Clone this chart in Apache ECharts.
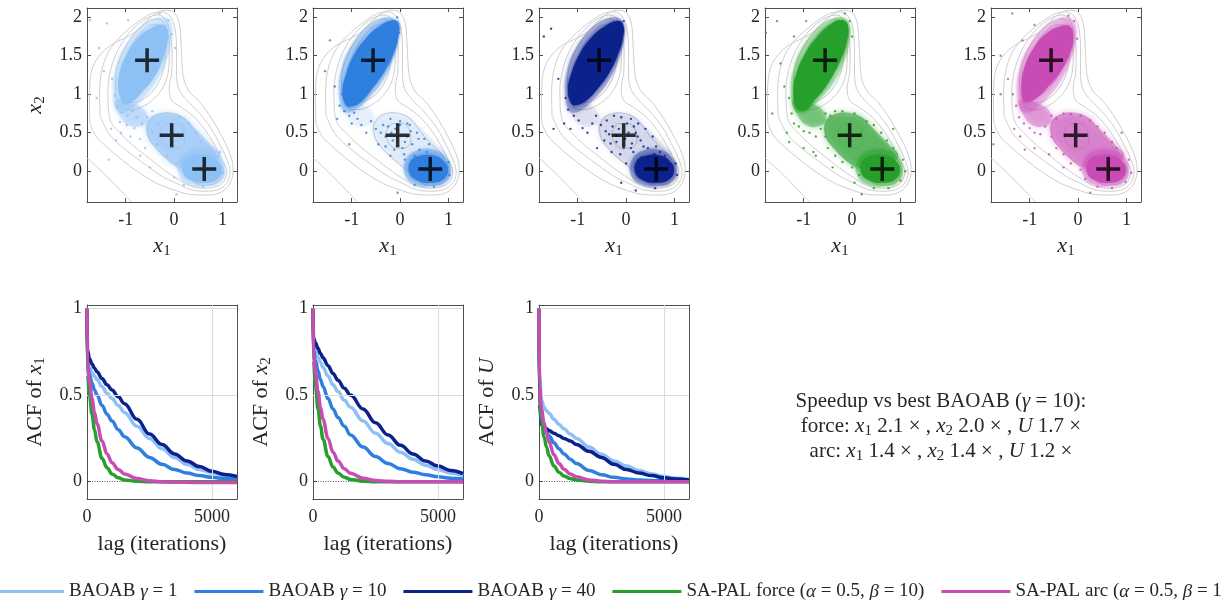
<!DOCTYPE html>
<html><head><meta charset="utf-8">
<script src="https://cdn.jsdelivr.net/npm/echarts@6/dist/echarts.min.js"></script>
<style>html,body{margin:0;padding:0;background:#fff}#c{width:1222px;height:600px}</style>
</head><body><div id="c"></div>
<script>
// ---------- DATA ----------
const seriesNames = ['BAOAB γ = 1', 'BAOAB γ = 10', 'BAOAB γ = 40', 'SA-PAL force (α = 0.5, β = 10)', 'SA-PAL arc (α = 0.5, β = 10)'];
const colors = ['#8DC0F5', '#2F7FDF', '#0B218C', '#26A02B', '#C84BB6'];

// top scatter panels: x1 / x2 ticks
const xTicksTop = [-1, 0, 1];
const yTicksTop = [0, 0.5, 1, 1.5, 2];
// minima markers (crosses)
const minima = [[-0.558, 1.442], [-0.050, 0.467], [0.623, 0.028]];

// contour polylines
const contourOpen = [[-1.8,0.17],[-1.6,0.06],[-1.4,-0.06],[-1.2,-0.19],[-1.0,-0.32],[-0.88,-0.4]];
const contour1 = [[-1.74,0.62],[-1.75,0.9],[-1.74,1.15],[-1.68,1.35],[-1.52,1.52],[-1.3,1.64],[-1.05,1.72],[-0.84,1.79],[-0.62,1.92],[-0.4,2.04],[-0.2,2.09],[-0.02,2.07],[0.1,1.94],[0.14,1.7],[0.16,1.44],[0.2,1.2],[0.32,1.03],[0.53,0.9],[0.78,0.68],[0.98,0.46],[1.14,0.25],[1.22,0.04],[1.17,-0.14],[0.98,-0.27],[0.68,-0.31],[0.32,-0.3],[-0.02,-0.24],[-0.35,-0.16],[-0.65,-0.05],[-0.92,0.07],[-1.18,0.2],[-1.42,0.33],[-1.62,0.46],[-1.74,0.62]];
const contour2 = [[-1.53,0.72],[-1.54,1.0],[-1.5,1.29],[-1.38,1.52],[-1.18,1.7],[-0.93,1.85],[-0.68,1.97],[-0.45,2.05],[-0.25,2.07],[-0.08,2.01],[0.02,1.84],[0.05,1.58],[0.05,1.3],[0.09,1.08],[0.25,0.93],[0.5,0.77],[0.76,0.56],[0.95,0.34],[1.1,0.14],[1.16,-0.02],[1.08,-0.16],[0.9,-0.24],[0.64,-0.26],[0.34,-0.24],[0.06,-0.16],[-0.24,-0.07],[-0.54,0.06],[-0.84,0.2],[-1.12,0.34],[-1.36,0.5],[-1.53,0.72]];
const contour3 = [[-1.36,0.8],[-1.37,1.05],[-1.32,1.29],[-1.2,1.52],[-1.0,1.74],[-0.76,1.9],[-0.52,2.0],[-0.32,2.03],[-0.17,1.96],[-0.08,1.78],[-0.04,1.52],[-0.05,1.28],[-0.1,1.08],[-0.05,0.92],[0.15,0.83],[0.42,0.7],[0.68,0.5],[0.87,0.3],[1.0,0.14],[1.09,0.0],[1.03,-0.13],[0.86,-0.2],[0.6,-0.22],[0.3,-0.18],[0.02,-0.08],[-0.28,0.05],[-0.58,0.2],[-0.88,0.35],[-1.12,0.5],[-1.3,0.63],[-1.36,0.8]];
const ringA1 = [[-1.1,0.86],[-1.2,1.0],[-1.21,1.2],[-1.12,1.45],[-0.95,1.67],[-0.74,1.84],[-0.52,1.95],[-0.34,1.98],[-0.2,1.92],[-0.12,1.75],[-0.1,1.52],[-0.12,1.29],[-0.22,1.1],[-0.4,0.95],[-0.62,0.85],[-0.85,0.8],[-1.0,0.8],[-1.1,0.86]];
const ringA2 = [[-1.02,0.92],[-1.1,1.05],[-1.1,1.25],[-1.0,1.47],[-0.85,1.66],[-0.65,1.82],[-0.45,1.9],[-0.3,1.9],[-0.2,1.8],[-0.17,1.6],[-0.2,1.38],[-0.3,1.18],[-0.47,1.02],[-0.66,0.93],[-0.85,0.89],[-1.02,0.92]];
const ringA3 = [[-0.95,1.0],[-1.0,1.15],[-0.95,1.35],[-0.82,1.56],[-0.63,1.73],[-0.44,1.83],[-0.3,1.82],[-0.24,1.68],[-0.27,1.48],[-0.38,1.28],[-0.55,1.12],[-0.74,1.01],[-0.95,1.0]];
const ringBC = [[-0.55,0.6],[-0.4,0.72],[-0.15,0.76],[0.12,0.72],[0.32,0.6],[0.5,0.45],[0.68,0.33],[0.85,0.23],[0.98,0.1],[1.02,0.0],[0.96,-0.1],[0.8,-0.17],[0.56,-0.18],[0.34,-0.1],[0.12,0.02],[-0.12,0.15],[-0.35,0.28],[-0.52,0.44],[-0.55,0.6]];
const ringB = [[0.3,0.12],[0.45,0.2],[0.65,0.2],[0.85,0.13],[0.95,0.03],[0.9,-0.08],[0.72,-0.13],[0.5,-0.12],[0.33,-0.05],[0.3,0.12]];
const ringC = [[-0.3,0.5],[-0.15,0.62],[0.05,0.62],[0.2,0.52],[0.22,0.38],[0.08,0.3],[-0.1,0.3],[-0.25,0.38],[-0.3,0.5]];

// dense sample clouds (outlines) and sparse samples per panel
const coreA1 = [[-1.08,0.9],[-1.15,1.08],[-1.12,1.29],[-0.98,1.51],[-0.74,1.73],[-0.46,1.86],[-0.22,1.9],[-0.13,1.81],[-0.15,1.64],[-0.26,1.42],[-0.43,1.21],[-0.67,1.03],[-0.88,0.9],[-1.05,0.88]];
const coreA2 = [[-1.12,0.86],[-1.19,1.03],[-1.12,1.25],[-0.95,1.51],[-0.7,1.73],[-0.43,1.88],[-0.15,1.96],[-0.03,1.92],[-0.04,1.73],[-0.15,1.51],[-0.33,1.29],[-0.57,1.08],[-0.81,0.9],[-1.02,0.84]];
const coreA3 = [[-1.13,0.88],[-1.2,1.05],[-1.13,1.27],[-0.96,1.52],[-0.71,1.74],[-0.44,1.88],[-0.17,1.95],[-0.06,1.9],[-0.07,1.72],[-0.18,1.5],[-0.35,1.28],[-0.58,1.08],[-0.82,0.92],[-1.03,0.86]];
const coreA4 = [[-1.15,0.82],[-1.21,1.03],[-1.15,1.27],[-0.98,1.51],[-0.74,1.73],[-0.46,1.9],[-0.22,1.96],[-0.09,1.9],[-0.11,1.68],[-0.22,1.47],[-0.4,1.25],[-0.6,1.05],[-0.81,0.9],[-0.98,0.79]];
const coreA5 = [[-1.13,0.92],[-1.17,1.12],[-1.1,1.36],[-0.89,1.62],[-0.65,1.79],[-0.37,1.88],[-0.17,1.88],[-0.1,1.75],[-0.17,1.53],[-0.37,1.29],[-0.62,1.1],[-0.86,0.95],[-1.03,0.9]];
const haloA = [[-1.2,0.8],[-1.27,1.05],[-1.22,1.32],[-1.06,1.58],[-0.8,1.8],[-0.5,1.95],[-0.2,2.0],[-0.05,1.9],[-0.06,1.66],[-0.18,1.4],[-0.38,1.15],[-0.64,0.95],[-0.9,0.8],[-1.1,0.76]];
const coreB = [[0.22,0.13],[0.43,0.2],[0.7,0.2],[0.9,0.13],[0.99,0.02],[0.9,-0.1],[0.65,-0.15],[0.37,-0.12],[0.2,-0.03]];
const haloB = [[0.12,0.15],[0.35,0.27],[0.7,0.28],[0.95,0.18],[1.06,0.02],[0.96,-0.14],[0.65,-0.2],[0.3,-0.17],[0.1,-0.05]];
const regionC = [[-0.55,0.65],[-0.35,0.74],[-0.05,0.75],[0.2,0.7],[0.4,0.58],[0.6,0.45],[0.8,0.32],[0.95,0.2],[0.7,0.05],[0.35,0.0],[0.1,0.05],[-0.15,0.15],[-0.38,0.3],[-0.55,0.45]];
const regionNeck = [[-1.22,0.92],[-1.12,0.72],[-0.95,0.6],[-0.72,0.58],[-0.55,0.66],[-0.62,0.8],[-0.85,0.88]];
const regionCOpacity = [0.5, 0.08, 0.09, 0.5, 0.45];
const regionNeckOpacity = [0.35, 0.06, 0.07, 0.4, 0.35];

const sparse1 = [[-1.74,1.96],[-1.39,1.92],[-0.95,1.96],[-1.55,1.6],[-1.45,1.3],[-1.28,1.2],[-1.22,0.98],[-1.18,0.84],[-1.08,0.76],[-0.96,0.72],[-0.86,0.78],[-0.78,0.7],[-1.12,0.64],[-0.98,0.6],[-0.82,0.56],[-0.66,0.62],[-0.55,0.7],[-0.45,0.78],[-1.3,0.55],[-1.1,0.5],[-0.9,0.45],[-0.7,0.42],[-1.2,0.4],[-0.6,0.3],[-0.45,0.5],[-0.32,0.62],[0.1,0.7],[0.3,0.62],[0.45,0.5],[0.55,0.38],[-0.35,0.35],[-0.15,0.2],[0.05,0.1],[0.2,0.0],[0.0,-0.08],[0.95,0.25],[1.02,-0.02],[0.6,-0.2],[0.2,-0.18],[-0.5,0.05],[-1.35,0.15],[0.05,-0.3],[-0.05,1.78],[-0.12,1.96],[-0.3,2.05],[0.02,1.6],[-1.6,0.95],[-0.7,0.2]];
const sparse2 = [[-1.2,1.0],[-1.25,0.85],[-1.15,0.78],[-1.05,0.72],[-0.95,0.76],[-0.88,0.68],[-1.3,0.68],[-1.0,0.62],[-0.8,0.6],[-0.6,0.65],[-1.55,1.3],[-1.45,1.7],[-0.7,0.5],[-0.5,0.55],[-0.35,0.6],[-0.2,0.68],[0.0,0.65],[0.2,0.6],[0.35,0.5],[0.5,0.42],[0.6,0.35],[-0.3,0.45],[-0.15,0.4],[0.05,0.3],[0.25,0.35],[0.4,0.28],[-0.1,0.55],[0.15,0.45],[-0.2,0.2],[0.1,0.15],[1.0,0.12],[1.02,-0.05],[0.7,-0.2],[0.3,-0.18],[-1.05,0.35],[-0.05,-0.28],[-1.35,1.1],[-0.02,1.8],[-0.06,2.0],[-0.45,0.35],[-0.25,0.58],[-0.05,0.45],[0.1,0.38],[0.3,0.2],[0.45,0.15],[-0.4,0.5],[0.0,0.6],[0.22,0.52],[0.38,0.42],[-0.12,0.28],[0.08,0.22],[-0.3,0.32],[0.55,0.25],[0.15,0.62],[-0.18,0.5]];
const sparse3 = [[-1.7,1.75],[-1.55,1.85],[-1.4,1.2],[-1.25,0.95],[-1.2,0.8],[-1.08,0.72],[-1.28,0.62],[-1.15,0.55],[-0.98,0.66],[-0.9,0.56],[-0.8,0.5],[-0.7,0.62],[-0.62,0.72],[-0.52,0.6],[-0.4,0.66],[-0.25,0.72],[-0.1,0.7],[0.1,0.68],[0.25,0.62],[0.4,0.55],[0.55,0.45],[0.62,0.32],[-0.35,0.48],[-0.2,0.38],[-0.05,0.3],[0.15,0.25],[0.3,0.4],[0.45,0.3],[-0.15,0.55],[0.05,0.5],[0.2,0.5],[-0.45,0.4],[-0.3,0.25],[0.0,0.1],[0.2,0.05],[1.02,0.1],[1.05,-0.05],[0.6,-0.22],[0.2,-0.25],[-0.1,-0.15],[-0.6,0.3],[-0.1,1.85],[-0.05,1.95],[-1.5,0.55],[-0.28,0.58],[-0.02,0.42],[0.12,0.36],[0.32,0.18],[0.48,0.18],[-0.42,0.52],[0.02,0.62],[0.24,0.45],[0.36,0.32],[-0.12,0.22],[0.1,0.3],[-0.32,0.36],[0.58,0.22],[0.16,0.58],[-0.2,0.46],[0.7,0.25],[0.8,0.2]];
const sparse4 = [[-1.78,1.8],[-1.55,1.95],[-1.48,1.4],[-1.4,1.1],[-1.3,0.95],[-1.25,0.75],[-1.2,0.62],[-1.1,0.58],[-1.0,0.52],[-0.88,0.5],[-0.75,0.45],[-0.65,0.55],[-1.35,0.5],[-1.3,0.38],[-0.55,0.75],[-0.45,0.72],[-0.35,0.78],[-0.2,0.78],[0.05,0.75],[0.3,0.65],[0.45,0.6],[0.6,0.5],[0.72,0.4],[0.85,0.3],[-0.55,0.45],[-0.5,0.3],[-0.35,0.2],[-0.2,0.12],[0.0,0.05],[0.15,-0.05],[0.05,-0.15],[-0.4,0.05],[1.05,0.15],[1.1,0.0],[1.0,-0.12],[0.75,-0.22],[0.45,-0.22],[0.2,-0.3],[-0.8,0.25],[-1.0,0.3],[-0.05,1.95],[0.0,1.75],[-0.15,2.05],[-0.95,1.95],[-1.2,1.75],[-0.75,0.2],[0.85,0.55],[-1.65,0.75]];
const sparse5 = [[-1.36,2.05],[-1.6,1.5],[-1.45,1.2],[-1.35,1.0],[-1.28,0.85],[-1.22,0.7],[-1.12,0.62],[-1.0,0.56],[-0.9,0.5],[-0.78,0.48],[-0.68,0.58],[-1.32,0.55],[-1.2,0.45],[-0.55,0.72],[-0.45,0.68],[-0.3,0.75],[-0.15,0.74],[0.05,0.72],[0.25,0.66],[0.4,0.58],[0.55,0.5],[0.7,0.38],[0.8,0.3],[-0.55,0.45],[-0.45,0.3],[-0.3,0.22],[-0.15,0.1],[0.05,0.02],[0.15,-0.1],[-0.3,0.05],[1.05,0.15],[1.1,-0.02],[0.98,-0.14],[0.7,-0.22],[0.4,-0.2],[0.25,-0.28],[-0.9,0.3],[-1.1,0.28],[-1.75,0.35],[-0.08,1.95],[-0.02,1.72],[-0.2,2.02],[-0.9,1.9],[-1.15,1.7],[-0.6,0.22],[0.9,0.5],[-1.6,1.0]];

// ACF panels
const lags = [0, 20, 100, 200, 300, 400, 600, 800, 1000, 1250, 1500, 2000, 2500, 3000, 3500, 4000, 4500, 5000, 5500, 6000];
const xTicksAcf = [0, 5000];
const yTicksAcf = [0, 0.5, 1];
const acfX1_g1  = [1,0.72,0.66,0.63,0.61,0.59,0.55,0.51,0.48,0.44,0.40,0.32,0.25,0.19,0.14,0.10,0.07,0.05,0.035,0.025];
const acfX1_g10 = [1,0.68,0.62,0.57,0.53,0.50,0.44,0.39,0.35,0.30,0.26,0.195,0.14,0.10,0.07,0.05,0.035,0.025,0.018,0.013];
const acfX1_g40 = [1,0.76,0.71,0.68,0.655,0.635,0.595,0.56,0.53,0.49,0.45,0.36,0.275,0.215,0.16,0.12,0.087,0.06,0.042,0.03];
const acfX1_force = [1,0.62,0.5,0.39,0.3,0.23,0.135,0.08,0.045,0.022,0.01,0.002,0,0,0,0,0,0,0,0];
const acfX1_arc = [1,0.68,0.58,0.48,0.4,0.335,0.235,0.16,0.11,0.07,0.045,0.018,0.006,0,-0.003,-0.004,-0.005,-0.005,-0.005,-0.005];
const acfX2_g1  = [1,0.8,0.76,0.72,0.69,0.66,0.61,0.56,0.52,0.47,0.43,0.35,0.28,0.22,0.17,0.13,0.095,0.07,0.05,0.035];
const acfX2_g10 = [1,0.76,0.7,0.64,0.59,0.55,0.48,0.42,0.37,0.32,0.27,0.2,0.145,0.105,0.075,0.055,0.04,0.028,0.02,0.015];
const acfX2_g40 = [1,0.83,0.8,0.77,0.74,0.715,0.67,0.625,0.585,0.54,0.5,0.42,0.34,0.27,0.21,0.16,0.12,0.09,0.065,0.047];
const acfX2_force = [1,0.7,0.55,0.42,0.32,0.245,0.145,0.085,0.05,0.025,0.013,0.003,0,0,0,0,0,0,0,0];
const acfX2_arc = [1,0.74,0.63,0.52,0.43,0.36,0.25,0.17,0.12,0.075,0.048,0.02,0.007,0.002,0,0,0,0,0,0];
const acfU_g1  = [1,0.62,0.47,0.43,0.41,0.395,0.36,0.33,0.305,0.275,0.25,0.2,0.158,0.12,0.09,0.065,0.045,0.03,0.02,0.013];
const acfU_g10 = [1,0.5,0.36,0.32,0.29,0.265,0.225,0.19,0.16,0.13,0.105,0.065,0.04,0.025,0.016,0.01,0.007,0.005,0.004,0.003];
const acfU_g40 = [1,0.45,0.33,0.315,0.305,0.295,0.28,0.265,0.25,0.235,0.215,0.175,0.14,0.10,0.07,0.05,0.035,0.022,0.015,0.01];
const acfU_force = [1,0.5,0.35,0.26,0.2,0.15,0.09,0.055,0.033,0.018,0.01,0.003,0,0,0,0,0,0,0,0];
const acfU_arc = [1,0.55,0.42,0.34,0.28,0.23,0.155,0.105,0.072,0.045,0.028,0.01,0.003,0,0,0,0,0,0,0];

// ---------- BUILD ----------
const SERIF = '"Liberation Serif", "Times New Roman", serif';
const INK = '#262626';
const AX = '#505050';
const NAME_FS = 22;
const subRich = {
  i: {fontStyle: 'italic', fontFamily: SERIF, fontSize: NAME_FS, lineHeight: 26, color: INK},
  s: {fontFamily: SERIF, fontSize: 15, lineHeight: 10, verticalAlign: 'bottom', color: INK}
};
const textRich = {
  i: {fontStyle: 'italic', fontFamily: SERIF, fontSize: 21, lineHeight: 25, color: INK},
  s: {fontFamily: SERIF, fontSize: 15, lineHeight: 10, verticalAlign: 'bottom', color: INK}
};
const grids = [], xAxes = [], yAxes = [], series = [];

function addPanel(left, top, w, h, xr, yr, xt, yt, xName, yName, xGap, yGap) {
  const g = grids.length;
  grids.push({left, top, width: w, height: h});
  const line = {show: true, onZero: false, lineStyle: {color: AX, width: 1}};
  const tick = (vals) => ({show: true, inside: true, length: 4, customValues: vals, lineStyle: {color: AX, width: 1}});
  const lab = (vals, m) => ({show: true, customValues: vals, fontFamily: SERIF, fontSize: 18, color: INK, margin: m, formatter: v => String(v)});
  xAxes.push({gridIndex: g, type: 'value', min: xr[0], max: xr[1], position: 'bottom', axisLine: line, axisTick: tick(xt), axisLabel: lab(xt, 9), splitLine: {show: false},
    name: xName, nameLocation: 'middle', nameGap: xGap, nameTextStyle: {fontFamily: SERIF, fontSize: NAME_FS, color: INK, rich: subRich}});
  xAxes.push({gridIndex: g, type: 'value', min: xr[0], max: xr[1], position: 'top', axisLine: line, axisTick: tick(xt), axisLabel: {show: false}, splitLine: {show: false}});
  yAxes.push({gridIndex: g, type: 'value', min: yr[0], max: yr[1], position: 'left', axisLine: line, axisTick: tick(yt), axisLabel: lab(yt, 5), splitLine: {show: false},
    name: yName, nameLocation: 'middle', nameGap: yGap, nameRotate: 90, nameTextStyle: {fontFamily: SERIF, fontSize: NAME_FS, color: INK, rich: subRich}});
  yAxes.push({gridIndex: g, type: 'value', min: yr[0], max: yr[1], position: 'right', axisLine: line, axisTick: tick(yt), axisLabel: {show: false}, splitLine: {show: false}});
  return {xi: 2 * g, yi: 2 * g};
}

function polySeries(ax, poly, color, opacity, z, blur) {
  return {type: 'custom', xAxisIndex: ax.xi, yAxisIndex: ax.yi, silent: true, z, clip: true, data: [[0, 0]],
    renderItem: (params, api) => ({type: 'polygon', shape: {points: poly.map(p => api.coord(p)), smooth: 0.45},
      style: {fill: color, opacity, shadowBlur: blur || 0, shadowColor: color}})};
}

const topLefts = [87, 313, 539, 765, 991];
const cores = [coreA1, coreA2, coreA3, coreA4, coreA5];
const sparses = [sparse1, sparse2, sparse3, sparse4, sparse5];
const contours = [contourOpen, contour1, contour2, contour3, ringA1, ringA2, ringA3, ringBC, ringB, ringC];
const plusPath = 'path://M10.25,0h3.5v10.25h10.25v3.5h-10.25v10.25h-3.5v-10.25h-10.25v-3.5h10.25z';

topLefts.forEach((L, i) => {
  const ax = addPanel(L, 8, 150, 194, [-1.8, 1.3], [-0.4, 2.12], xTicksTop, yTicksTop,
    '{i|x}{s|1}', i === 0 ? '{i|x}{s|2}' : '', 31, 39);
  contours.forEach(c => series.push({type: 'line', xAxisIndex: ax.xi, yAxisIndex: ax.yi, data: c, symbol: 'none', smooth: 0.35,
    lineStyle: {color: '#cfcfcf', width: 1}, silent: true, z: 1, animation: false}));
  series.push(polySeries(ax, regionNeck, colors[i], regionNeckOpacity[i], 2, 6));
  series.push(polySeries(ax, regionC, colors[i], regionCOpacity[i], 2, 6));
  series.push(polySeries(ax, haloA, colors[i], 0.25, 2, 4));
  series.push(polySeries(ax, haloB, colors[i], 0.3, 2, 4));
  series.push(polySeries(ax, cores[i], colors[i], 1, 3, 3));
  series.push(polySeries(ax, coreB, colors[i], 1, 3, 3));
  series.push({type: 'scatter', xAxisIndex: ax.xi, yAxisIndex: ax.yi, data: sparses[i], symbolSize: 2.4, itemStyle: {color: colors[i]}, silent: true, z: 3, animation: false});
  series.push({type: 'scatter', xAxisIndex: ax.xi, yAxisIndex: ax.yi, data: minima, symbol: plusPath, symbolSize: 24, itemStyle: {color: '#000'}, silent: true, z: 6, animation: false});
});

const acfSets = [
  [acfX1_g1, acfX1_g10, acfX1_g40, acfX1_force, acfX1_arc],
  [acfX2_g1, acfX2_g10, acfX2_g40, acfX2_force, acfX2_arc],
  [acfU_g1, acfU_g10, acfU_g40, acfU_force, acfU_arc]
];
const acfNames = ['ACF of {i|x}{s|1}', 'ACF of {i|x}{s|2}', 'ACF of {i|U}'];
[87, 313, 539].forEach((L, p) => {
  const ax = addPanel(L, 305, 150, 194, [0, 6000], [-0.1, 1.02], xTicksAcf, yTicksAcf, 'lag (iterations)', acfNames[p], 34, 39);
  series.push({type: 'line', xAxisIndex: ax.xi, yAxisIndex: ax.yi, data: [], silent: true, z: 1,
    markLine: {silent: true, symbol: 'none', label: {show: false}, animation: false,
      data: [
        {yAxis: 0.5, lineStyle: {color: '#dcdcdc', width: 1, type: 'solid'}},
        {yAxis: 1, lineStyle: {color: '#dcdcdc', width: 1, type: 'solid'}},
        {xAxis: 5000, lineStyle: {color: '#dcdcdc', width: 1, type: 'solid'}},
        {yAxis: 0, lineStyle: {color: '#333', width: 0.8, type: [1, 1.5]}}
      ]}});
  acfSets[p].forEach((vals, k) => {
    series.push({type: 'line', name: seriesNames[k], xAxisIndex: ax.xi, yAxisIndex: ax.yi,
      data: lags.map((l, j) => [l, vals[j]]), symbol: 'none', smooth: 0.4, smoothMonotone: 'x',
      lineStyle: {color: colors[k], width: 3.5}, itemStyle: {color: colors[k]}, z: 2 + k, animation: false});
  });
});

const option = {
  backgroundColor: '#fff',
  animation: false,
  grid: grids, xAxis: xAxes, yAxis: yAxes, series,
  legend: {data: seriesNames, left: -10, top: 577, width: 1800, itemWidth: 69, itemHeight: 16, itemGap: 17,
    lineStyle: {width: 3}, icon: 'path://M0,6h69v3h-69z',
    formatter: n => n.replace(/([γαβ])/g, '{i|$1}'),
    textStyle: {fontFamily: SERIF, fontSize: 19, color: INK, rich: {i: {fontStyle: 'italic', fontFamily: SERIF, fontSize: 19, color: INK}}}},
  graphic: [
    {type: 'text', x: 941, y: 401, style: {text: 'Speedup vs best BAOAB ({i|γ} = 10):', fontFamily: SERIF, fontSize: 21, fill: INK, align: 'center', verticalAlign: 'middle', rich: textRich}},
    {type: 'text', x: 941, y: 426, style: {text: 'force: {i|x}{s|1} 2.1 × , {i|x}{s|2} 2.0 × , {i|U} 1.7 ×', fontFamily: SERIF, fontSize: 21, fill: INK, align: 'center', verticalAlign: 'middle', rich: textRich}},
    {type: 'text', x: 941, y: 451, style: {text: 'arc: {i|x}{s|1} 1.4 × , {i|x}{s|2} 1.4 × , {i|U} 1.2 ×', fontFamily: SERIF, fontSize: 21, fill: INK, align: 'center', verticalAlign: 'middle', rich: textRich}}
  ]
};
const chart = echarts.init(document.getElementById('c'), null, {renderer: 'canvas'});
chart.setOption(option);
</script></body></html>
